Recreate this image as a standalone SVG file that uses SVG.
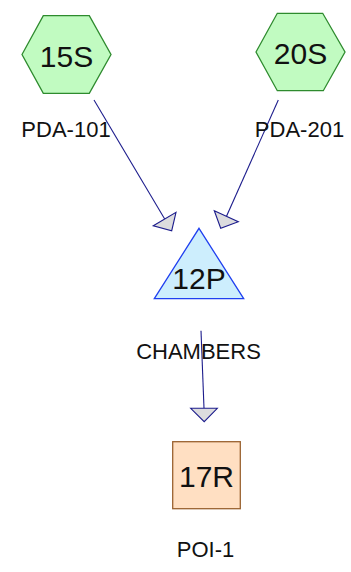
<svg xmlns="http://www.w3.org/2000/svg" width="351" height="572" viewBox="0 0 351 572">
<style>
.hex{fill:#c1fbc1;stroke:#2e8b2e;stroke-width:1.3}
.tri{fill:#cdeefd;stroke:#1f3ff0;stroke-width:1.3}
.rect{fill:#ffdfc2;stroke:#9a6230;stroke-width:1.3}
.nt{font-family:"Liberation Sans",Arial,sans-serif;font-size:30px;fill:#111;text-anchor:middle}
.lb{font-family:"Liberation Sans",Arial,sans-serif;font-size:22px;fill:#111;text-anchor:middle}
.edge{stroke:#1c1c8c;stroke-width:1.1;fill:none}
.ah{fill:#dcdcde;stroke:#1c1c8c;stroke-width:1.1}
</style>
<g id="connectors">
<line class="edge" x1="94" y1="100" x2="164.7" y2="219"/>
<polygon class="ah" points="153.3,225.7 176,212.3 171.7,230.7"/>
<line class="edge" x1="278.3" y1="100" x2="226.5" y2="216.2"/>
<polygon class="ah" points="214.3,210.7 238.3,221.7 220.7,228.3"/>
<line class="edge" x1="201" y1="330.7" x2="204" y2="408.3"/>
<polygon class="ah" points="190.7,408.3 217.3,408.3 204.2,421.7"/>
</g>
<g id="n15S">
<polygon class="hex" points="22,54.5 43.3,15.7 89.3,15.7 111,54.5 89.3,93.3 43.3,93.3"/>
<text class="nt" x="66.5" y="66.5">15S</text>
<text class="lb" x="66" y="136.7">PDA-101</text>
</g>
<g id="n20S">
<polygon class="hex" points="256,52 277.3,13.3 322.7,13.3 345,52 323.3,90.7 277.3,90.7"/>
<text class="nt" x="300.5" y="64">20S</text>
<text class="lb" x="299.5" y="136.7">PDA-201</text>
</g>
<g id="n12P">
<polygon class="tri" points="199,228.3 243.7,298.7 154.3,298.7"/>
<text class="nt" x="199" y="289">12P</text>
<text class="lb" x="198.5" y="359">CHAMBERS</text>
</g>
<g id="n17R">
<rect class="rect" x="172.7" y="441.7" width="67.6" height="67"/>
<text class="nt" x="206.5" y="487.3">17R</text>
<text class="lb" x="205.5" y="556.7">POI-1</text>
</g>
</svg>
